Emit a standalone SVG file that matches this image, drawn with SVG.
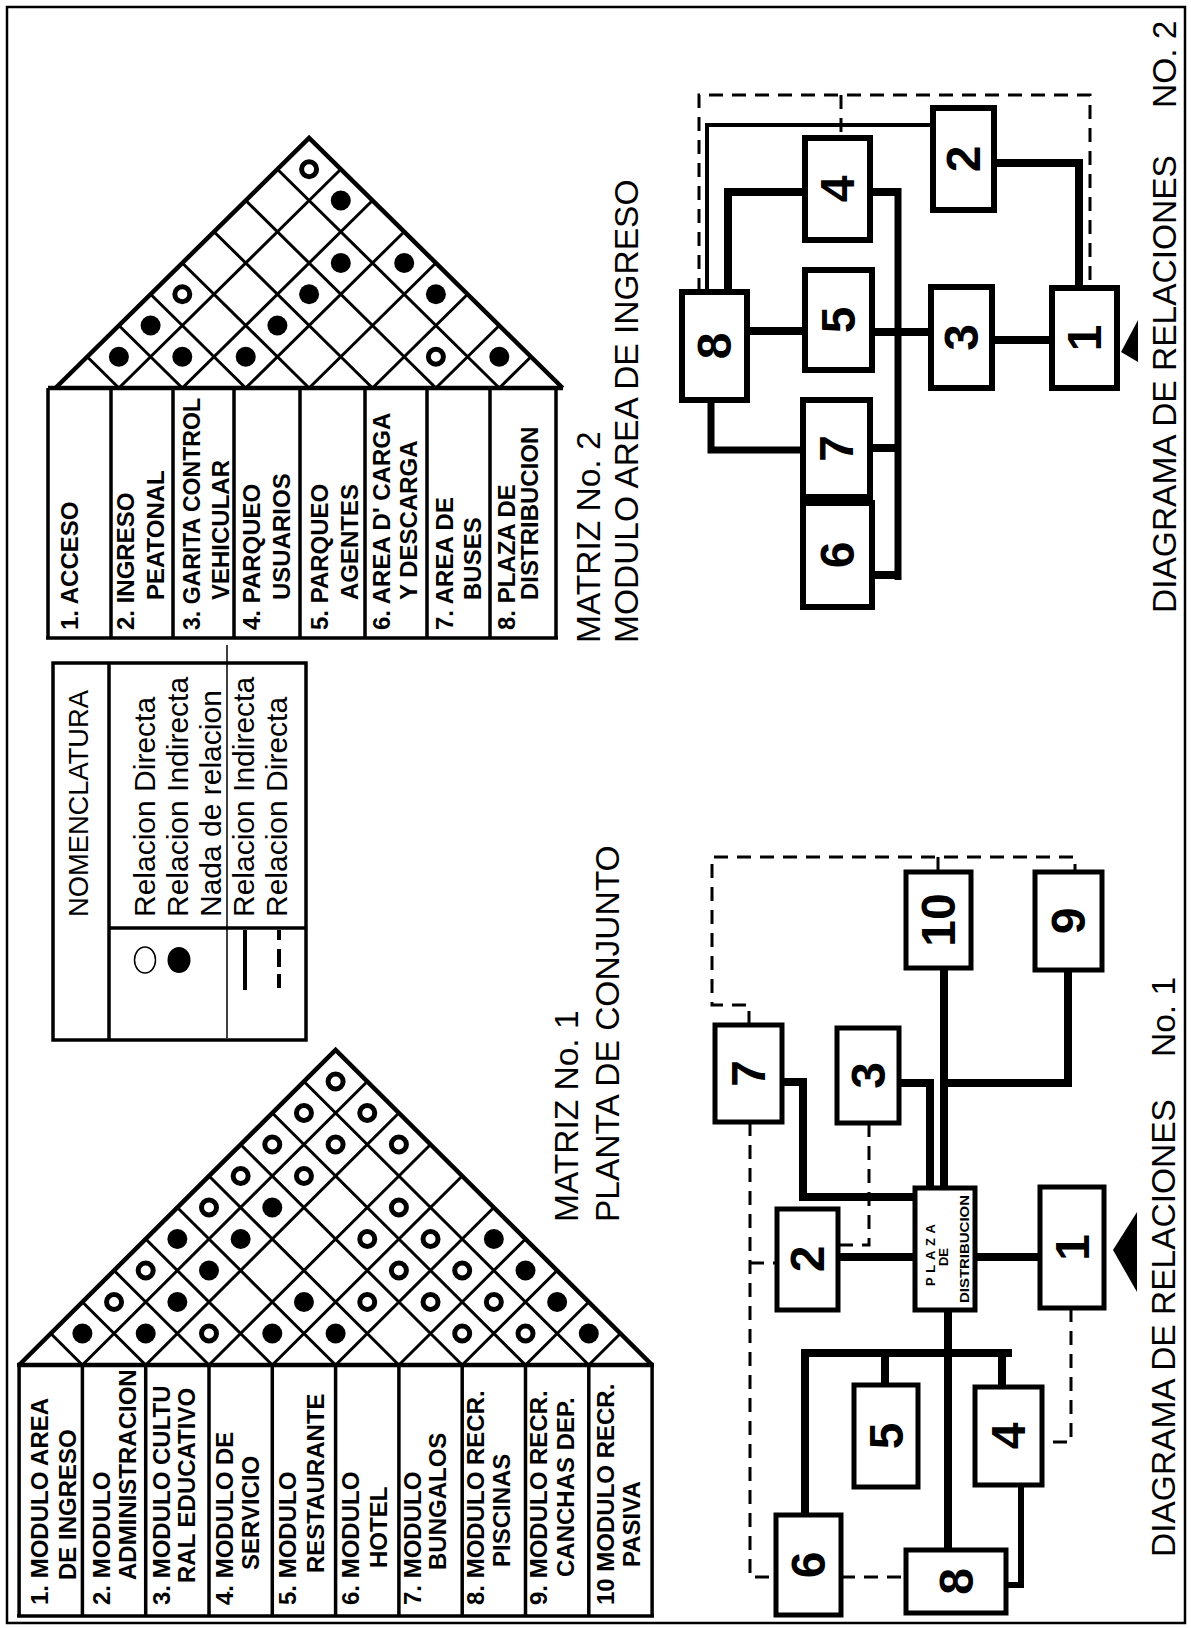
<svg xmlns="http://www.w3.org/2000/svg" width="1191" height="1628" viewBox="0 0 1191 1628">
<style>
text{font-family:"Liberation Sans",Arial,sans-serif;fill:#000}
.lbl{font-weight:bold;font-size:24px}
.ttl{font-size:33.5px}
.leg{font-size:30px}
.num{font-weight:bold;font-size:48px}
.pz{font-weight:bold;font-size:13px}
.out{fill:none;stroke:#000;stroke-width:4.5;stroke-linejoin:miter}
.grid{fill:none;stroke:#000;stroke-width:3}
.tbl{fill:none;stroke:#000;stroke-width:3.5}
.f{fill:#000}
.o{fill:#fff;stroke:#000;stroke-width:5}
.box{fill:#fff;stroke:#000;stroke-width:5}
.box2{fill:#fff;stroke:#000;stroke-width:6}
.thick{fill:none;stroke:#000;stroke-width:8}
.med{fill:none;stroke:#000;stroke-width:4}
.dash{fill:none;stroke:#000;stroke-width:3;stroke-dasharray:14 9}
</style>
<rect x="0" y="0" width="1191" height="1628" fill="#fff"/>
<rect x="7" y="7" width="1178" height="1616" fill="none" stroke="#000" stroke-width="2.5"/>

<!-- MATRIZ No. 2 -->
<g id="matrix2">
<path class="grid" d="M118.9,388 L340.8,169.25 M118.9,388 L87.2,356.75 M182.3,388 L372.5,200.5 M182.3,388 L118.9,325.5 M245.7,388 L404.2,231.75 M245.7,388 L150.6,294.25 M309.1,388 L435.9,263 M309.1,388 L182.3,263 M372.5,388 L467.6,294.25 M372.5,388 L214,231.75 M435.9,388 L499.3,325.5 M435.9,388 L245.7,200.5 M499.3,388 L531,356.75 M499.3,388 L277.4,169.25"/>
<path class="out" d="M55.5,388 L309.1,138 L562.7,388"/>
<path class="out" d="M48,388 H563"/>
<path class="tbl" d="M48,388 V638 M111,388 V638 M173,388 V638 M234,388 V638 M300,388 V638 M365,388 V638 M427,388 V638 M490,388 V638 M556,388 V638 M46,638 H558"/>
<g>
<circle class="f" cx="118.9" cy="356.75" r="10"/>
<circle class="f" cx="182.3" cy="356.75" r="10"/>
<circle class="f" cx="245.7" cy="356.75" r="10"/>
<circle class="f" cx="499.3" cy="356.75" r="10"/>
<circle class="f" cx="150.6" cy="325.5" r="10"/>
<circle class="f" cx="277.4" cy="325.5" r="10"/>
<circle class="f" cx="309.1" cy="294.25" r="10"/>
<circle class="f" cx="340.8" cy="263" r="10"/>
<circle class="f" cx="404.2" cy="263" r="10"/>
<circle class="f" cx="435.9" cy="294.25" r="10"/>
<circle class="f" cx="340.8" cy="200.5" r="10"/>
<circle class="o" cx="435.9" cy="356.75" r="7.5"/>
<circle class="o" cx="182.3" cy="294.25" r="7.5"/>
<circle class="o" cx="309.1" cy="169.25" r="7.5"/>
</g>
<g class="lbl">
<text transform="translate(78,630) rotate(-90)">1. ACCESO</text>
<text transform="translate(134,630) rotate(-90)">2. INGRESO</text>
<text transform="translate(164,600) rotate(-90)">PEATONAL</text>
<text transform="translate(200,630) rotate(-90)" textLength="232" lengthAdjust="spacingAndGlyphs">3. GARITA CONTROL</text>
<text transform="translate(229,600) rotate(-90)">VEHICULAR</text>
<text transform="translate(260,630) rotate(-90)">4. PARQUEO</text>
<text transform="translate(290,600) rotate(-90)">USUARIOS</text>
<text transform="translate(328,630) rotate(-90)">5. PARQUEO</text>
<text transform="translate(358,600) rotate(-90)">AGENTES</text>
<text transform="translate(390,630) rotate(-90)">6. AREA D' CARGA</text>
<text transform="translate(417,600) rotate(-90)">Y DESCARGA</text>
<text transform="translate(453,630) rotate(-90)">7. AREA DE</text>
<text transform="translate(481,600) rotate(-90)">BUSES</text>
<text transform="translate(515,630) rotate(-90)">8. PLAZA DE</text>
<text transform="translate(538,600) rotate(-90)">DISTRIBUCION</text>
</g>
<text class="ttl" transform="translate(600,643) rotate(-90)">MATRIZ No. 2</text>
<text class="ttl" transform="translate(638,643) rotate(-90)">MODULO AREA DE INGRESO</text>
</g>

<!-- NOMENCLATURA -->
<g id="legend">
<rect x="53" y="663" width="253" height="377" fill="none" stroke="#000" stroke-width="3.5"/>
<path d="M109,663 V1040 M109,928 H306" fill="none" stroke="#000" stroke-width="3.5"/>
<path d="M227,645 V1038" fill="none" stroke="#000" stroke-width="1.5"/>
<text transform="translate(88,917) rotate(-90)" font-size="28" textLength="227" lengthAdjust="spacingAndGlyphs">NOMENCLATURA</text>
<text class="leg" transform="translate(155,917) rotate(-90)">Relacion Directa</text>
<text class="leg" transform="translate(188,917) rotate(-90)">Relacion Indirecta</text>
<text class="leg" transform="translate(221,917) rotate(-90)">Nada de relacion</text>
<text class="leg" transform="translate(254,917) rotate(-90)">Relacion Indirecta</text>
<text class="leg" transform="translate(287,917) rotate(-90)">Relacion Directa</text>
<ellipse cx="145" cy="960" rx="10.5" ry="13" fill="#fff" stroke="#000" stroke-width="1.5"/>
<ellipse cx="179" cy="960" rx="11.5" ry="13" fill="#000"/>
<path d="M245,930 V990" stroke="#000" stroke-width="4"/>
<path d="M279,930 V988" stroke="#000" stroke-width="4" stroke-dasharray="10 9 18 7 14"/>
</g>

<!-- MATRIZ No. 1 -->
<g id="matrix1">
<path class="grid" d="M82.4,1365 L367.25,1081.5 M82.4,1365 L50.75,1333.5 M145.7,1365 L398.9,1113 M145.7,1365 L82.4,1302 M209,1365 L430.55,1144.5 M209,1365 L114.05,1270.5 M272.3,1365 L462.2,1176 M272.3,1365 L145.7,1239 M335.6,1365 L493.85,1207.5 M335.6,1365 L177.35,1207.5 M398.9,1365 L525.5,1239 M398.9,1365 L209,1176 M462.2,1365 L557.15,1270.5 M462.2,1365 L240.65,1144.5 M525.5,1365 L588.8,1302 M525.5,1365 L272.3,1113 M588.8,1365 L620.45,1333.5 M588.8,1365 L303.95,1081.5"/>
<path class="out" d="M19.1,1365 L335.6,1050 L652.1,1365"/>
<path class="out" d="M17,1365 H654"/>
<path class="tbl" d="M19.1,1365 V1616 M82.4,1365 V1616 M145.7,1365 V1616 M209,1365 V1616 M272.3,1365 V1616 M335.6,1365 V1616 M398.9,1365 V1616 M462.2,1365 V1616 M525.5,1365 V1616 M588.8,1365 V1616 M652.1,1365 V1616 M17,1616 H654"/>
<g>
<circle class="o" cx="335.6" cy="1081.5" r="7.5"/>
<circle class="o" cx="303.95" cy="1113" r="7.5"/>
<circle class="o" cx="367.25" cy="1113" r="7.5"/>
<circle class="o" cx="272.3" cy="1144.5" r="7.5"/>
<circle class="o" cx="335.6" cy="1144.5" r="7.5"/>
<circle class="o" cx="398.9" cy="1144.5" r="7.5"/>
<circle class="o" cx="240.65" cy="1176" r="7.5"/>
<circle class="o" cx="303.95" cy="1176" r="7.5"/>
<circle class="o" cx="209" cy="1207.5" r="7.5"/>
<circle class="o" cx="398.9" cy="1207.5" r="7.5"/>
<circle class="o" cx="367.25" cy="1239" r="7.5"/>
<circle class="o" cx="430.55" cy="1239" r="7.5"/>
<circle class="o" cx="145.7" cy="1270.5" r="7.5"/>
<circle class="o" cx="398.9" cy="1270.5" r="7.5"/>
<circle class="o" cx="462.2" cy="1270.5" r="7.5"/>
<circle class="o" cx="114.05" cy="1302" r="7.5"/>
<circle class="o" cx="367.25" cy="1302" r="7.5"/>
<circle class="o" cx="430.55" cy="1302" r="7.5"/>
<circle class="o" cx="493.85" cy="1302" r="7.5"/>
<circle class="o" cx="209" cy="1333.5" r="7.5"/>
<circle class="o" cx="462.2" cy="1333.5" r="7.5"/>
<circle class="o" cx="525.5" cy="1333.5" r="7.5"/>
<circle class="f" cx="272.3" cy="1207.5" r="10"/>
<circle class="f" cx="177.35" cy="1239" r="10"/>
<circle class="f" cx="240.65" cy="1239" r="10"/>
<circle class="f" cx="493.85" cy="1239" r="10"/>
<circle class="f" cx="209" cy="1270.5" r="10"/>
<circle class="f" cx="525.5" cy="1270.5" r="10"/>
<circle class="f" cx="177.35" cy="1302" r="10"/>
<circle class="f" cx="303.95" cy="1302" r="10"/>
<circle class="f" cx="557.15" cy="1302" r="10"/>
<circle class="f" cx="82.4" cy="1333.5" r="10"/>
<circle class="f" cx="145.7" cy="1333.5" r="10"/>
<circle class="f" cx="272.3" cy="1333.5" r="10"/>
<circle class="f" cx="335.6" cy="1333.5" r="10"/>
<circle class="f" cx="588.8" cy="1333.5" r="10"/>
</g>
<g class="lbl">
<text transform="translate(48,1605) rotate(-90)">1. MODULO AREA</text>
<text transform="translate(76,1580) rotate(-90)">DE INGRESO</text>
<text transform="translate(110,1605) rotate(-90)">2. MODULO</text>
<text transform="translate(136,1580) rotate(-90)">ADMINISTRACION</text>
<text transform="translate(170,1605) rotate(-90)">3. MODULO CULTU</text>
<text transform="translate(195,1583) rotate(-90)">RAL EDUCATIVO</text>
<text transform="translate(233,1605) rotate(-90)">4. MODULO DE</text>
<text transform="translate(259,1570) rotate(-90)">SERVICIO</text>
<text transform="translate(296,1605) rotate(-90)">5. MODULO</text>
<text transform="translate(324,1573) rotate(-90)">RESTAURANTE</text>
<text transform="translate(359,1605) rotate(-90)">6. MODULO</text>
<text transform="translate(387,1568) rotate(-90)">HOTEL</text>
<text transform="translate(421,1605) rotate(-90)">7. MODULO</text>
<text transform="translate(446,1570) rotate(-90)">BUNGALOS</text>
<text transform="translate(484,1605) rotate(-90)">8. MODULO RECR.</text>
<text transform="translate(510,1567) rotate(-90)">PISCINAS</text>
<text transform="translate(547,1605) rotate(-90)">9. MODULO RECR.</text>
<text transform="translate(574,1577) rotate(-90)">CANCHAS DEP.</text>
<text transform="translate(614,1605) rotate(-90)">10 MODULO RECR.</text>
<text transform="translate(640,1567) rotate(-90)">PASIVA</text>
</g>
<text class="ttl" transform="translate(578,1222) rotate(-90)">MATRIZ No. 1</text>
<text class="ttl" transform="translate(619,1222) rotate(-90)">PLANTA DE CONJUNTO</text>
</g>

<!-- connectors -->
<g id="connectors">
<path class="thick" d="M944,968 V1188"/>
<path class="thick" d="M1068,970 V1083 H944"/>
<path class="thick" d="M899,1083 H930 V1188" stroke-width="7"/>
<path class="thick" d="M782,1082 H803 V1197 H915" stroke-width="7"/>
<path class="thick" d="M838,1257 H915"/>
<path class="thick" d="M975,1257 H1040"/>
<path class="thick" d="M948,1310 V1550"/>
<path class="thick" d="M805,1515 V1353 H1012"/>
<path class="thick" d="M885,1353 V1385"/>
<path class="thick" d="M1002,1353 V1387"/>
<path class="thick" d="M1021,1485 V1585 H1006" style="stroke-width:6"/>
<path class="dash" d="M869,1123 V1245 H838"/>
<path class="dash" d="M841,1577 H906"/>
<path class="dash" d="M1071,1308 V1442 H1042"/>
<path class="dash" d="M750,1122 V1577 H776"/>
<path class="dash" d="M750,1263 H777"/>
<path class="dash" d="M749,1025 V1005 H712 V857 H1075 V872"/>
<path class="dash" d="M938,857 V872"/>

<path class="thick" d="M747,331 H805"/>
<path class="thick" d="M872,332 H931"/>
<path class="thick" d="M992,340 H1052"/>
<path class="thick" d="M898,188 V580" style="stroke-width:7"/>
<path class="thick" d="M870,192 H898"/>
<path class="thick" d="M870,448 H898"/>
<path class="thick" d="M872,575 H898"/>
<path class="thick" d="M805,192 H728 V292"/>
<path class="thick" d="M994,163 H1079 V288"/>
<path class="thick" d="M711,400 V450 H803" style="stroke-width:7"/>
<path class="med" d="M933,125 H707 V292"/>
<path class="dash" d="M699,292 V95 H1090 V288"/>
<path class="dash" d="M841,95 V138"/>
</g>

<!-- DIAGRAMA 1 nodes -->
<g id="d1-7"><rect class="box" x="715" y="1025" width="67" height="97"/><text class="num" text-anchor="middle" dominant-baseline="central" transform="translate(748.5,1073.5) rotate(-90)">7</text></g>
<g id="d1-3"><rect class="box" x="837" y="1028" width="62" height="95"/><text class="num" text-anchor="middle" dominant-baseline="central" transform="translate(868,1075.5) rotate(-90)">3</text></g>
<g id="d1-10"><rect class="box" x="906" y="872" width="65" height="96"/><text class="num" text-anchor="middle" dominant-baseline="central" transform="translate(938.5,920) rotate(-90)">10</text></g>
<g id="d1-9"><rect class="box" x="1035" y="872" width="67" height="98"/><text class="num" text-anchor="middle" dominant-baseline="central" transform="translate(1068.5,921) rotate(-90)">9</text></g>
<g id="d1-plaza"><rect class="box" x="915" y="1188" width="60" height="122"/>
<text class="pz" text-anchor="middle" transform="translate(935,1255) rotate(-90)" textLength="62" lengthAdjust="spacing">PLAZA</text>
<text class="pz" text-anchor="middle" transform="translate(948,1257) rotate(-90)">DE</text>
<text class="pz" text-anchor="middle" transform="translate(969,1249) rotate(-90)" textLength="108" lengthAdjust="spacingAndGlyphs">DISTRIBUCION</text></g>
<g id="d1-2"><rect class="box" x="777" y="1209" width="61" height="101"/><text class="num" text-anchor="middle" dominant-baseline="central" transform="translate(807.5,1259) rotate(-90)">2</text></g>
<g id="d1-1"><rect class="box" x="1040" y="1187" width="64" height="121"/><text class="num" text-anchor="middle" dominant-baseline="central" transform="translate(1072,1247.5) rotate(-90)">1</text></g>
<g id="d1-5"><rect class="box" x="854" y="1385" width="64" height="102"/><text class="num" text-anchor="middle" dominant-baseline="central" transform="translate(886,1436) rotate(-90)">5</text></g>
<g id="d1-4"><rect class="box" x="975" y="1387" width="67" height="98"/><text class="num" text-anchor="middle" dominant-baseline="central" transform="translate(1008.5,1436) rotate(-90)">4</text></g>
<g id="d1-6"><rect class="box" x="776" y="1515" width="65" height="100"/><text class="num" text-anchor="middle" dominant-baseline="central" transform="translate(808.5,1565) rotate(-90)">6</text></g>
<g id="d1-8"><rect class="box" x="906" y="1550" width="100" height="63"/><text class="num" text-anchor="middle" dominant-baseline="central" transform="translate(956,1581.5) rotate(-90)">8</text></g>
<polygon points="1113,1250 1137,1212 1137,1292" fill="#000"/>
<text class="ttl" transform="translate(1175,1557) rotate(-90)">DIAGRAMA DE RELACIONES</text>
<text class="ttl" transform="translate(1175,1057) rotate(-90)">No. 1</text>

<!-- DIAGRAMA 2 nodes -->
<g id="d2-8"><rect class="box2" x="682" y="292" width="65" height="108"/><text class="num" text-anchor="middle" dominant-baseline="central" transform="translate(714.5,346) rotate(-90)">8</text></g>
<g id="d2-5"><rect class="box2" x="805" y="270" width="67" height="100"/><text class="num" text-anchor="middle" dominant-baseline="central" transform="translate(838.5,320) rotate(-90)">5</text></g>
<g id="d2-4"><rect class="box2" x="805" y="138" width="65" height="102"/><text class="num" text-anchor="middle" dominant-baseline="central" transform="translate(837.5,189) rotate(-90)">4</text></g>
<g id="d2-2"><rect class="box2" x="933" y="108" width="61" height="102"/><text class="num" text-anchor="middle" dominant-baseline="central" transform="translate(963.5,159) rotate(-90)">2</text></g>
<g id="d2-3"><rect class="box2" x="931" y="287" width="61" height="101"/><text class="num" text-anchor="middle" dominant-baseline="central" transform="translate(961.5,337.5) rotate(-90)">3</text></g>
<g id="d2-1"><rect class="box2" x="1052" y="288" width="65" height="100"/><text class="num" text-anchor="middle" dominant-baseline="central" transform="translate(1084.5,338) rotate(-90)">1</text></g>
<g id="d2-7"><rect class="box2" x="803" y="400" width="67" height="97"/><text class="num" text-anchor="middle" dominant-baseline="central" transform="translate(836.5,448.5) rotate(-90)">7</text></g>
<g id="d2-6"><rect class="box2" x="803" y="503" width="69" height="104"/><text class="num" text-anchor="middle" dominant-baseline="central" transform="translate(837.5,555) rotate(-90)">6</text></g>
<polygon points="1121,352 1138,320 1138,362" fill="#000"/>
<text class="ttl" transform="translate(1176,613) rotate(-90)">DIAGRAMA DE RELACIONES</text>
<text class="ttl" transform="translate(1176,108) rotate(-90)">NO. 2</text>
</svg>
